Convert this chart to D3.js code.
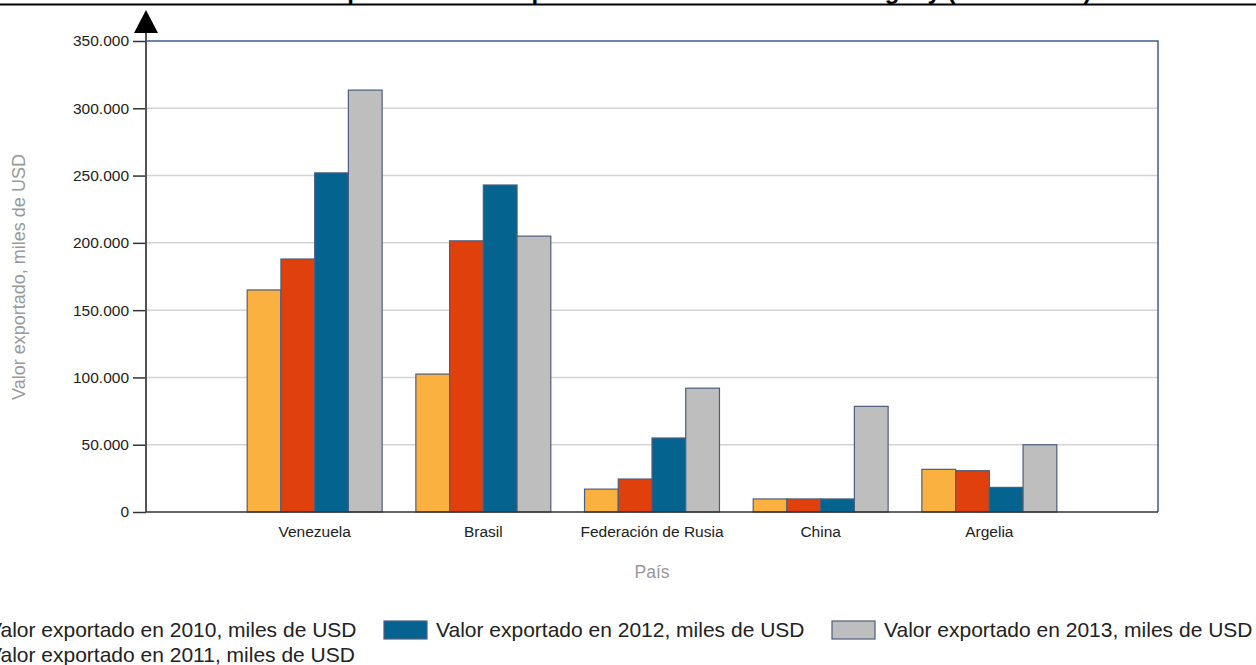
<!DOCTYPE html>
<html>
<head>
<meta charset="utf-8">
<script src="https://cdn.jsdelivr.net/npm/d3@7"></script>
<style>
  body { margin: 0; background: #fff; overflow: hidden; }
  svg { display: block; font-family: "Liberation Sans", Arial, sans-serif; }
</style>
</head>
<body>
<div id="chart"></div>
<script>
const width = 1256;
const height = 665;

const paises = ["Venezuela", "Brasil", "Federación de Rusia", "China", "Argelia"];
const series = ["2010", "2011", "2012", "2013"];
const v2010 = [165000, 102500, 17000, 9700, 31700];
const v2011 = [188000, 201500, 24500, 9700, 30700];
const v2012 = [252000, 243000, 55000, 9700, 18300];
const v2013 = [313500, 205000, 92000, 78500, 50000];
const yTicks = [0, 50000, 100000, 150000, 200000, 250000, 300000, 350000];

const colors = ["#fbb13f", "#e0400b", "#05638f", "#bebebe"];
const values = [v2010, v2011, v2012, v2013];

const margin = { top: 41, left: 146, right: 98, bottom: 153 };
const innerW = width - margin.left - margin.right;
const innerH = height - margin.top - margin.bottom;

const svg = d3.select("#chart").append("svg").attr("width", width).attr("height", height);

// title (cropped at the top of the picture)
svg.append("text")
    .attr("x", 318)
    .attr("y", -1)
    .attr("text-anchor", "start")
    .style("font-weight", "bold")
    .style("font-size", "24px")
    .text("Exportaciones del producto a los destinos de Uruguay (2010 - 2013)");

svg.append("line")
    .attr("x1", 0).attr("x2", width)
    .attr("y1", 4.5).attr("y2", 4.5)
    .attr("stroke", "#000").attr("stroke-width", 2);

const g = svg.append("g").attr("transform", `translate(${margin.left},${margin.top})`);

//scales
const x = d3.scalePoint().domain(paises).range([0, innerW]).padding(1);
const step = x.step();
const xs = d3.scaleBand().domain(series).range([-0.4 * step, 0.4 * step]);
const y = d3.scaleLinear().domain([0, 350000]).range([innerH, 0]);

// grid
g.selectAll("line.grid")
    .data(yTicks.filter(d => d > 0 && d < 350000))
    .join("line")
    .attr("class", "grid")
    .attr("x1", 0).attr("x2", innerW)
    .attr("y1", d => y(d)).attr("y2", d => y(d))
    .attr("stroke", "#d4d4d4")
    .attr("stroke-width", 1.5);

// frame top and right
g.append("path")
    .attr("d", `M0,${y(350000)}H${innerW}V${innerH}`)
    .attr("fill", "none")
    .attr("stroke", "#3f5d8c")
    .attr("stroke-width", 1.5);

// bars
const groups = g.selectAll("g.pais")
    .data(paises)
    .join("g")
    .attr("class", "pais")
    .attr("transform", d => `translate(${x(d)},0)`);

groups.selectAll("rect")
    .data((p, i) => series.map((s, j) => ({ s, j, v: values[j][i] })))
    .join("rect")
    .attr("x", d => xs(d.s))
    .attr("width", xs.bandwidth())
    .attr("y", d => y(d.v))
    .attr("height", d => innerH - y(d.v))
    .attr("fill", d => colors[d.j])
    .attr("stroke", "#4d5e7c")
    .attr("stroke-width", 1.2);

// y axis
const yAxis = g.append("g")
    .call(d3.axisLeft(y).tickValues(yTicks).tickSize(13).tickPadding(4)
        .tickFormat(d => d3.format(",")(d).replace(/,/g, ".")));
yAxis.select(".domain").remove();
yAxis.selectAll(".tick line").attr("stroke", "#333").attr("stroke-width", 1.5);
yAxis.selectAll("text").style("font-size", "15.5px").attr("fill", "#222");

g.append("line")
    .attr("x1", 0).attr("x2", 0)
    .attr("y1", -12).attr("y2", innerH)
    .attr("stroke", "#555").attr("stroke-width", 2);
g.append("path")
    .attr("d", "M0,-31L-12,-8L12,-8Z")
    .attr("fill", "#000");

// x axis
g.append("line")
    .attr("x1", 0).attr("x2", innerW)
    .attr("y1", innerH).attr("y2", innerH)
    .attr("stroke", "#333").attr("stroke-width", 1.5);

g.selectAll("text.xLabel")
    .data(paises)
    .join("text")
    .attr("class", "xLabel")
    .attr("x", d => x(d))
    .attr("y", innerH + 25)
    .attr("text-anchor", "middle")
    .style("font-size", "15.5px")
    .attr("fill", "#222")
    .text(d => d);

g.append("text")
    .attr("x", innerW / 2)
    .attr("y", innerH + 66)
    .attr("text-anchor", "middle")
    .style("font-size", "17.5px")
    .attr("fill", "#999")
    .text("País");

svg.append("text")
    .attr("transform", `translate(25,277) rotate(-90)`)
    .attr("text-anchor", "middle")
    .style("font-size", "18px")
    .attr("fill", "#999")
    .text("Valor exportado, miles de USD");

// legend
const legendPos = [[-64, 630], [-64, 655], [384, 630], [832, 630]];
const legend = svg.selectAll("g.legend")
    .data(series)
    .join("g")
    .attr("class", "legend")
    .attr("transform", (d, i) => `translate(${legendPos[i][0]},${legendPos[i][1]})`);

legend.append("rect")
    .attr("x", 0).attr("y", -9)
    .attr("width", 43).attr("height", 18)
    .attr("fill", (d, i) => colors[i])
    .attr("stroke", "#4d5e7c")
    .attr("stroke-width", 1.2);

legend.append("text")
    .attr("x", 52)
    .attr("dy", "0.35em")
    .style("font-size", "21px")
    .attr("fill", "#222")
    .text(d => `Valor exportado en ${d}, miles de USD`);
</script>
</body>
</html>
